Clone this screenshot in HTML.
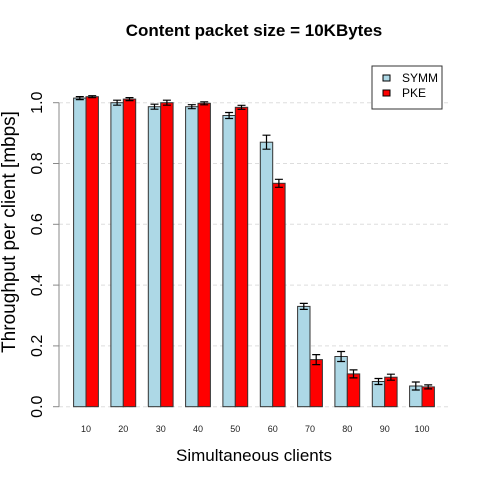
<!DOCTYPE html>
<html><head><meta charset="utf-8"><style>html,body{margin:0;padding:0;background:#fff}svg{display:block}</style></head><body>
<svg width="480" height="480" xmlns="http://www.w3.org/2000/svg" font-family="Liberation Sans, sans-serif">
<rect width="480" height="480" fill="#fff"/>
<text x="254" y="36" font-size="17" font-weight="bold" text-anchor="middle">Content packet size = 10KBytes</text>
<g stroke="#ddd" stroke-dasharray="4,3" stroke-width="1">
<line x1="59" y1="102.7" x2="450" y2="102.7"/><line x1="59" y1="163.5" x2="450" y2="163.5"/><line x1="59" y1="224.3" x2="450" y2="224.3"/><line x1="59" y1="285.1" x2="450" y2="285.1"/><line x1="59" y1="345.9" x2="450" y2="345.9"/><line x1="59" y1="406.7" x2="450" y2="406.7"/>
</g>
<g stroke="#333" stroke-width="1">
<rect x="73.6" y="98.1" width="12.4" height="308.6" fill="#add8e6"/><rect x="86" y="96.7" width="12.4" height="310" fill="#f00"/>
<rect x="110.9" y="102.7" width="12.4" height="304" fill="#add8e6"/><rect x="123.3" y="99.1" width="12.4" height="307.6" fill="#f00"/>
<rect x="148.3" y="106.7" width="12.4" height="300" fill="#add8e6"/><rect x="160.7" y="102.7" width="12.4" height="304" fill="#f00"/>
<rect x="185.6" y="106.7" width="12.4" height="300" fill="#add8e6"/><rect x="198" y="103.3" width="12.4" height="303.4" fill="#f00"/>
<rect x="222.9" y="115.5" width="12.4" height="291.2" fill="#add8e6"/><rect x="235.3" y="107.3" width="12.4" height="299.4" fill="#f00"/>
<rect x="260.3" y="142.2" width="12.4" height="264.5" fill="#add8e6"/><rect x="272.7" y="183.3" width="12.4" height="223.4" fill="#f00"/>
<rect x="297.6" y="306.4" width="12.4" height="100.3" fill="#add8e6"/><rect x="310" y="359.6" width="12.4" height="47.1" fill="#f00"/>
<rect x="334.9" y="356.5" width="12.4" height="50.2" fill="#add8e6"/><rect x="347.3" y="373.9" width="12.4" height="32.8" fill="#f00"/>
<rect x="372.3" y="381.5" width="12.4" height="25.2" fill="#add8e6"/><rect x="384.7" y="377.2" width="12.4" height="29.5" fill="#f00"/>
<rect x="409.6" y="386" width="12.4" height="20.7" fill="#add8e6"/><rect x="422" y="386.9" width="12.4" height="19.8" fill="#f00"/>
</g>
<g stroke="#000" stroke-width="1.2" fill="none">
<path d="M79.8 96.6V99.6M75.8 96.6h8M75.8 99.6h8"/><path d="M92.2 95.7V97.7M88.2 95.7h8M88.2 97.7h8"/>
<path d="M117.1 100.2V105.2M113.1 100.2h8M113.1 105.2h8"/><path d="M129.5 97.6V100.6M125.5 97.6h8M125.5 100.6h8"/>
<path d="M154.5 104.2V109.2M150.5 104.2h8M150.5 109.2h8"/><path d="M166.9 100.2V105.2M162.9 100.2h8M162.9 105.2h8"/>
<path d="M191.8 104.7V108.7M187.8 104.7h8M187.8 108.7h8"/><path d="M204.2 101.8V104.8M200.2 101.8h8M200.2 104.8h8"/>
<path d="M229.1 112.5V118.5M225.1 112.5h8M225.1 118.5h8"/><path d="M241.5 105.3V109.3M237.5 105.3h8M237.5 109.3h8"/>
<path d="M266.5 135.2V149.2M262.5 135.2h8M262.5 149.2h8"/><path d="M278.9 179.3V187.3M274.9 179.3h8M274.9 187.3h8"/>
<path d="M303.8 303.4V309.4M299.8 303.4h8M299.8 309.4h8"/><path d="M316.2 354.6V364.6M312.2 354.6h8M312.2 364.6h8"/>
<path d="M341.1 351.5V361.5M337.1 351.5h8M337.1 361.5h8"/><path d="M353.5 369.9V377.9M349.5 369.9h8M349.5 377.9h8"/>
<path d="M378.5 378.5V384.5M374.5 378.5h8M374.5 384.5h8"/><path d="M390.9 374.2V380.2M386.9 374.2h8M386.9 380.2h8"/>
<path d="M415.8 382V390M411.8 382h8M411.8 390h8"/><path d="M428.2 384.9V388.9M424.2 384.9h8M424.2 388.9h8"/>
</g>
<g stroke="#888" stroke-width="1"><line x1="59" y1="102.7" x2="59" y2="406.7"/>
<line x1="53" y1="102.7" x2="59" y2="102.7"/><line x1="53" y1="163.5" x2="59" y2="163.5"/><line x1="53" y1="224.3" x2="59" y2="224.3"/><line x1="53" y1="285.1" x2="59" y2="285.1"/><line x1="53" y1="345.9" x2="59" y2="345.9"/><line x1="53" y1="406.7" x2="59" y2="406.7"/></g>
<g font-size="16" text-anchor="middle">
<text transform="translate(42 102.7) rotate(-90)">1.0</text><text transform="translate(42 163.5) rotate(-90)">0.8</text><text transform="translate(42 224.3) rotate(-90)">0.6</text><text transform="translate(42 285.1) rotate(-90)">0.4</text><text transform="translate(42 345.9) rotate(-90)">0.2</text><text transform="translate(42 406.7) rotate(-90)">0.0</text>
<text transform="translate(15 232) rotate(-90)" font-size="19">Throughput per client [mbps]</text>
</g>
<g font-size="9" text-anchor="middle" fill="#222">
<text x="86" y="432">10</text><text x="123.3" y="432">20</text><text x="160.7" y="432">30</text><text x="198" y="432">40</text><text x="235.3" y="432">50</text><text x="272.7" y="432">60</text><text x="310" y="432">70</text><text x="347.3" y="432">80</text><text x="384.7" y="432">90</text><text x="422" y="432">100</text>
</g>
<text x="254" y="461" font-size="17" text-anchor="middle">Simultaneous clients</text>
<rect x="372" y="66" width="70" height="43" fill="#fff" stroke="#333"/>
<rect x="383" y="75" width="7" height="6" fill="#add8e6" stroke="#000"/><rect x="383" y="90" width="7" height="6" fill="#f00" stroke="#000"/>
<text x="402" y="82" font-size="12">SYMM</text><text x="402" y="97" font-size="12">PKE</text>
</svg>
</body></html>
